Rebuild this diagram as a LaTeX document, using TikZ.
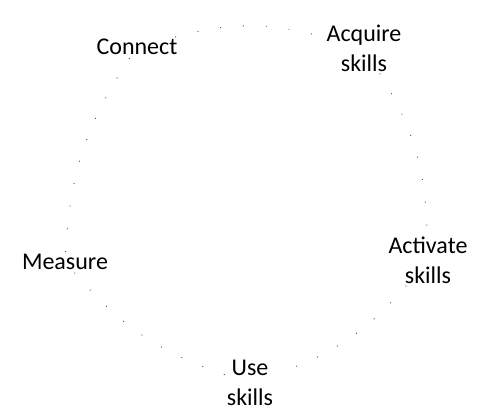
\documentclass[tikz,border=0pt]{standalone}
\usepackage{fontspec}
\setmainfont{Carlito}
\begin{document}
\begin{tikzpicture}[x=1pt,y=-1pt,
  lbl/.style={font=\fontsize{24}{30}\selectfont, align=center, inner sep=2pt},
  conn/.style={draw=black!70, line width=0.9pt, dash pattern=on 0.9pt off 22pt, -{}}]
\useasboundingbox (0,0) rectangle (478,414);
\node[lbl] (connect) at (137,47) {Connect};
\node[lbl] (acquire) at (364,48) {Acquire\\skills};
\node[lbl] (activate) at (428,260) {Activate\\skills};
\node[lbl] (use) at (250,383) {Use\\skills};
\node[lbl] (measure) at (65,262) {Measure};
\draw[conn] (connect) to[bend left=15] (acquire);
\draw[conn] (acquire) to[bend left=15] (activate);
\draw[conn] (activate) to[bend left=15] (use);
\draw[conn] (use) to[bend left=15] (measure);
\draw[conn] (measure) to[bend left=15] (connect);
\end{tikzpicture}
\end{document}
